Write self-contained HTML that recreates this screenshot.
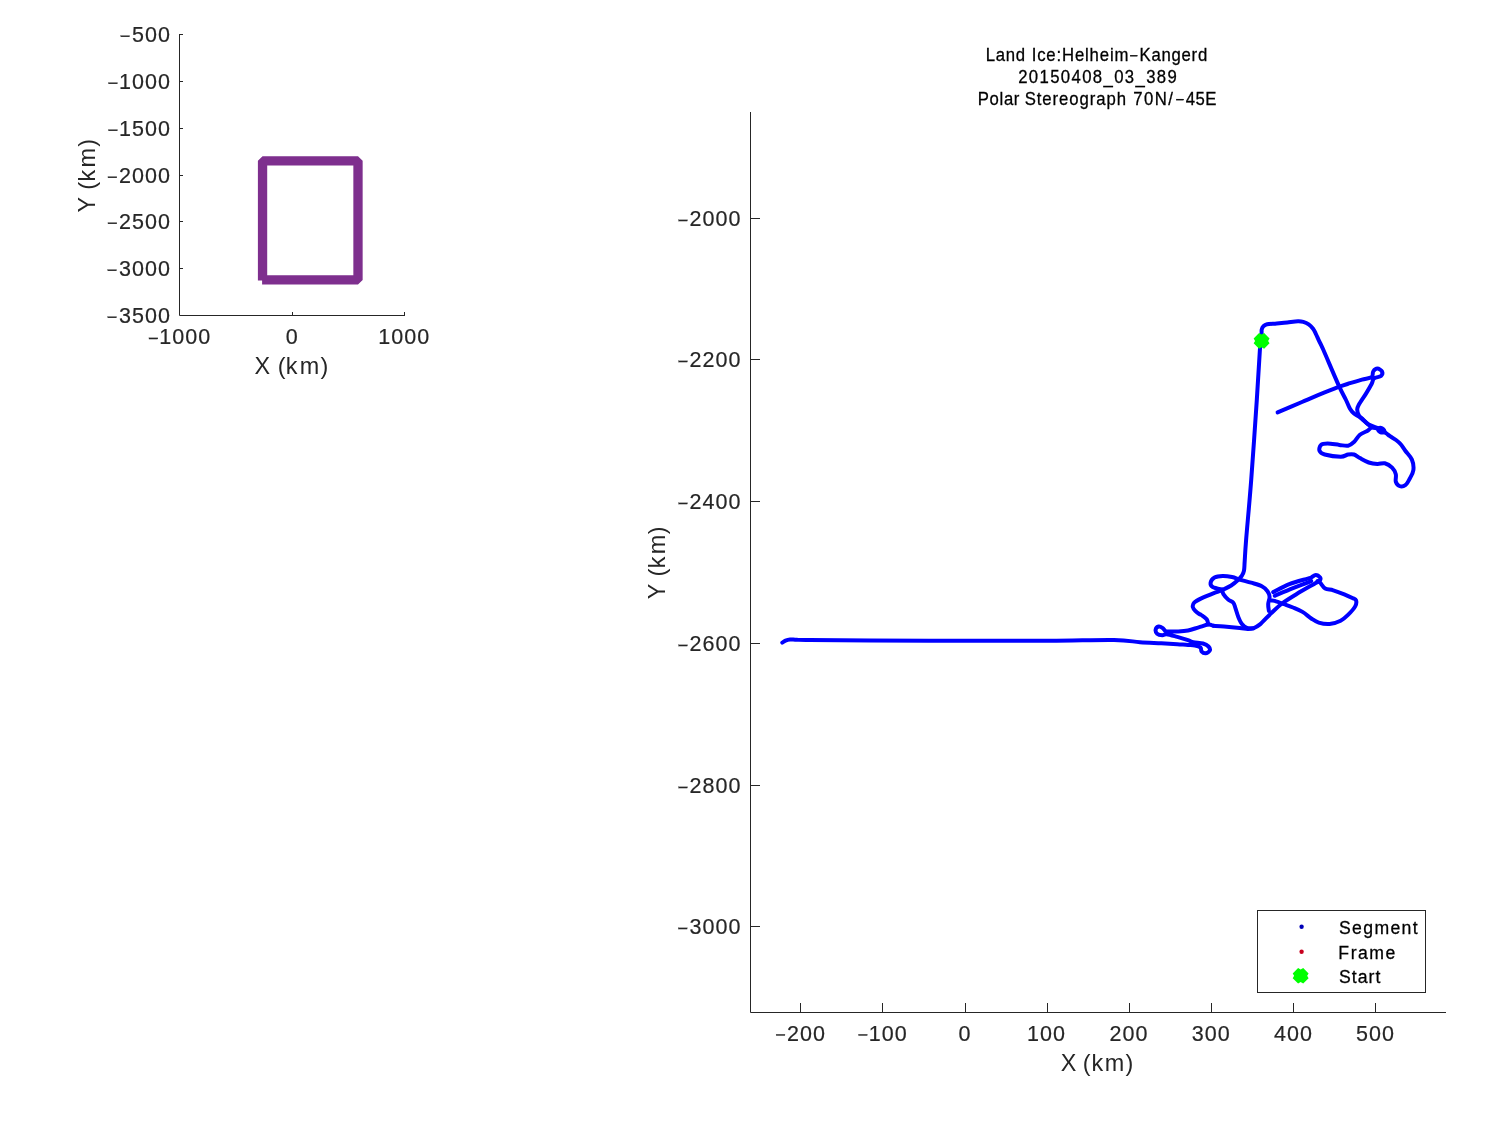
<!DOCTYPE html><html><head><meta charset="utf-8"><title>Plot</title><style>html,body{margin:0;padding:0;background:#fff;width:1500px;height:1125px;overflow:hidden}</style></head><body><svg width="1500" height="1125" viewBox="0 0 1500 1125" style="display:block;will-change:transform" font-family='"Liberation Sans", sans-serif' font-size="20" fill="#262626"><path d="M179.5,34 V315.5 H405 M179.5,34.5 h3.5 M179.5,81.5 h3.5 M179.5,128.5 h3.5 M179.5,175.5 h3.5 M179.5,221.5 h3.5 M179.5,268.5 h3.5 M292.5,315.5 v-3.5 M404.5,315.5 v-3.5" fill="none" stroke="#262626" stroke-width="1"/><g stroke="#262626" stroke-width="0.2"><text transform="scale(1.0,1)" x="131.88 144.88 157.88" y="42.20" font-size="21.5">500</text><rect x="120.74" y="35.60" width="8.9" height="1.3"/><text transform="scale(1.0,1)" x="118.88 131.88 144.88 157.88" y="89.20" font-size="21.5">1000</text><rect x="108.52" y="82.60" width="8.9" height="1.3"/><text transform="scale(1.0,1)" x="118.88 131.88 144.88 157.88" y="136.20" font-size="21.5">1500</text><rect x="108.52" y="129.60" width="8.9" height="1.3"/><text transform="scale(1.0,1)" x="118.88 131.88 144.88 157.88" y="183.20" font-size="21.5">2000</text><rect x="107.96" y="176.60" width="8.9" height="1.3"/><text transform="scale(1.0,1)" x="118.88 131.88 144.88 157.88" y="229.20" font-size="21.5">2500</text><rect x="107.96" y="222.60" width="8.9" height="1.3"/><text transform="scale(1.0,1)" x="118.88 131.88 144.88 157.88" y="276.20" font-size="21.5">3000</text><rect x="107.70" y="269.60" width="8.9" height="1.3"/><text transform="scale(1.0,1)" x="118.88 131.88 144.88 157.88" y="323.20" font-size="21.5">3500</text><rect x="107.70" y="316.60" width="8.9" height="1.3"/><text transform="scale(1.0,1)" x="159.32 172.32 185.32 198.32" y="344.40" font-size="21.5">1000</text><rect x="148.96" y="337.80" width="8.9" height="1.3"/><text transform="scale(1.0,1)" x="285.72" y="344.40" font-size="21.5">0</text><text transform="scale(1.0,1)" x="378.32 391.32 404.32 417.32" y="344.40" font-size="21.5">1000</text></g><text x="254.57 277.75 285.82 299.75 320.46" y="373.50" font-size="23.4">X(km)</text><text transform="translate(94.80,211.90) rotate(-90)" x="-0.51 22.25 30.52 44.35 65.16" y="0" font-size="23.4" style="white-space:pre">Y(km)</text><path d="M262.55,280.5 V160.8 H358 V279.9 H262.1" fill="none" stroke="#7E2F8E" stroke-width="9.3" stroke-linejoin="bevel"/><path d="M750.5,112 V1012.5 H1446 M750.5,218.5 h9.5 M750.5,359.5 h9.5 M750.5,501.5 h9.5 M750.5,643.5 h9.5 M750.5,785.5 h9.5 M750.5,926.5 h9.5 M800.5,1012.5 v-9.5 M882.5,1012.5 v-9.5 M965.5,1012.5 v-9.5 M1047.5,1012.5 v-9.5 M1129.5,1012.5 v-9.5 M1211.5,1012.5 v-9.5 M1293.5,1012.5 v-9.5 M1375.5,1012.5 v-9.5" fill="none" stroke="#262626" stroke-width="1"/><g stroke="#262626" stroke-width="0.2"><text transform="scale(1.0,1)" x="689.48 702.48 715.48 728.48" y="226.40" font-size="21.5">2000</text><rect x="678.56" y="219.80" width="8.9" height="1.3"/><text transform="scale(1.0,1)" x="689.48 702.48 715.48 728.48" y="367.40" font-size="21.5">2200</text><rect x="678.56" y="360.80" width="8.9" height="1.3"/><text transform="scale(1.0,1)" x="689.48 702.48 715.48 728.48" y="509.40" font-size="21.5">2400</text><rect x="678.56" y="502.80" width="8.9" height="1.3"/><text transform="scale(1.0,1)" x="689.48 702.48 715.48 728.48" y="651.40" font-size="21.5">2600</text><rect x="678.56" y="644.80" width="8.9" height="1.3"/><text transform="scale(1.0,1)" x="689.48 702.48 715.48 728.48" y="793.40" font-size="21.5">2800</text><rect x="678.56" y="786.80" width="8.9" height="1.3"/><text transform="scale(1.0,1)" x="689.48 702.48 715.48 728.48" y="934.40" font-size="21.5">3000</text><rect x="678.30" y="927.80" width="8.9" height="1.3"/><text transform="scale(1.0,1)" x="787.00 800.00 813.00" y="1040.90" font-size="21.5">200</text><rect x="776.08" y="1034.30" width="8.9" height="1.3"/><text transform="scale(1.0,1)" x="868.85 881.85 894.85" y="1040.90" font-size="21.5">100</text><rect x="858.49" y="1034.30" width="8.9" height="1.3"/><text transform="scale(1.0,1)" x="958.38" y="1040.90" font-size="21.5">0</text><text transform="scale(1.0,1)" x="1027.11 1040.11 1053.11" y="1040.90" font-size="21.5">100</text><text transform="scale(1.0,1)" x="1109.51 1122.51 1135.51" y="1040.90" font-size="21.5">200</text><text transform="scale(1.0,1)" x="1191.77 1204.77 1217.77" y="1040.90" font-size="21.5">300</text><text transform="scale(1.0,1)" x="1274.07 1287.07 1300.07" y="1040.90" font-size="21.5">400</text><text transform="scale(1.0,1)" x="1356.01 1369.01 1382.01" y="1040.90" font-size="21.5">500</text></g><text x="1060.67 1082.75 1091.42 1104.75 1125.46" y="1070.90" font-size="23.4">X(km)</text><text transform="translate(664.80,598.70) rotate(-90)" x="-0.51 22.25 30.52 44.35 64.36" y="0" font-size="23.4" style="white-space:pre">Y(km)</text><g fill="#000" stroke="#000" stroke-width="0.3"><text transform="scale(0.92,1)" x="1071.55" y="60.80" font-size="18.2" letter-spacing="0.726">Land</text><text transform="scale(0.92,1)" x="1121.36" y="60.80" font-size="18.2" letter-spacing="0.918">Ice:Helheim</text><rect x="1130.2" y="55.20" width="7.2" height="1.05"/><text transform="scale(0.92,1)" x="1238.72" y="60.80" font-size="18.2" letter-spacing="0.788">Kangerd</text><text transform="scale(0.92,1)" x="1106.69" y="82.80" font-size="18.2" letter-spacing="1.487">20150408_03_389</text><text transform="scale(0.92,1)" x="1062.85" y="104.70" font-size="18.2" letter-spacing="0.696">Polar</text><text transform="scale(0.92,1)" x="1113.74" y="104.70" font-size="18.2" letter-spacing="1.010">Stereograph</text><text transform="scale(0.92,1)" x="1231.89" y="104.70" font-size="18.2" letter-spacing="1.518">70N/</text><rect x="1176.25" y="99.10" width="7.5" height="1.05"/><text transform="scale(0.92,1)" x="1288.98" y="104.70" font-size="18.2" letter-spacing="0.468">45E</text></g><g fill="none" stroke="#0000FF" stroke-width="4.0" stroke-linejoin="round" stroke-linecap="round"><path d="M782.30,642.70C782.83,642.35 784.22,641.13 785.50,640.60C786.78,640.07 788.13,639.63 790.00,639.50C791.87,639.37 793.37,639.70 796.70,639.80C800.03,639.90 797.78,639.97 810.00,640.10C822.22,640.23 845.00,640.50 870.00,640.60C895.00,640.70 930.00,640.68 960.00,640.70C990.00,640.72 1024.33,640.82 1050.00,640.70C1075.67,640.58 1099.00,639.75 1114.00,640.00C1129.00,640.25 1132.12,641.65 1140.00,642.20C1147.88,642.75 1155.08,642.95 1161.30,643.30C1167.52,643.65 1172.85,644.03 1177.30,644.30C1181.75,644.57 1185.05,644.70 1188.00,644.90C1190.95,645.10 1192.92,645.07 1195.00,645.50C1197.08,645.93 1199.42,646.53 1200.50,647.50C1201.58,648.47 1200.65,650.35 1201.50,651.30C1202.35,652.25 1204.22,653.33 1205.60,653.20C1206.98,653.07 1209.32,651.62 1209.80,650.50C1210.28,649.38 1209.63,647.67 1208.50,646.50C1207.37,645.33 1205.53,644.22 1203.00,643.50C1200.47,642.78 1195.80,642.77 1193.30,642.20C1190.80,641.63 1190.67,640.98 1188.00,640.10C1185.33,639.22 1180.85,637.88 1177.30,636.90C1173.75,635.92 1169.18,634.47 1166.70,634.20C1164.22,633.93 1164.00,635.38 1162.40,635.30C1160.80,635.22 1158.22,634.68 1157.10,633.70C1155.98,632.72 1155.43,630.60 1155.70,629.40C1155.97,628.20 1157.58,626.77 1158.70,626.50C1159.82,626.23 1161.25,627.02 1162.40,627.80C1163.55,628.58 1164.72,630.58 1165.60,631.20C1166.48,631.82 1165.75,631.45 1167.70,631.50C1169.65,631.55 1173.92,631.67 1177.30,631.50C1180.68,631.33 1184.43,631.20 1188.00,630.50C1191.57,629.80 1195.32,628.28 1198.70,627.30C1202.08,626.32 1205.85,624.85 1208.30,624.60C1210.75,624.35 1212.55,625.60 1213.40,625.80"/><path d="M1208.30,624.30C1208.03,623.47 1207.87,620.85 1206.70,619.30C1205.53,617.75 1202.58,615.92 1201.30,615.00C1200.02,614.08 1199.95,614.43 1199.00,613.80C1198.05,613.17 1196.63,612.33 1195.60,611.20C1194.57,610.07 1193.03,608.42 1192.80,607.00C1192.57,605.58 1192.78,604.13 1194.20,602.70C1195.62,601.27 1197.73,600.12 1201.30,598.40C1204.87,596.68 1212.03,593.83 1215.60,592.40C1219.17,590.97 1220.10,590.95 1222.70,589.80C1225.30,588.65 1228.60,587.17 1231.20,585.50C1233.80,583.83 1236.52,581.45 1238.30,579.80C1240.08,578.15 1240.95,577.13 1241.90,575.60C1242.85,574.07 1243.53,573.03 1244.00,570.60C1244.47,568.17 1244.35,566.10 1244.70,561.00C1245.05,555.90 1245.02,553.50 1246.10,540.00C1247.18,526.50 1249.42,503.33 1251.20,480.00C1252.98,456.67 1255.33,421.97 1256.80,400.00C1258.27,378.03 1259.22,359.13 1260.00,348.20C1260.78,337.27 1261.22,337.50 1261.50,334.40C1261.78,331.30 1261.40,330.93 1261.70,329.60C1262.00,328.27 1262.40,327.28 1263.30,326.40C1264.20,325.52 1264.87,324.78 1267.10,324.30C1269.33,323.82 1273.33,323.82 1276.70,323.50C1280.07,323.18 1283.75,322.77 1287.30,322.40C1290.85,322.03 1295.33,321.38 1298.00,321.30C1300.67,321.22 1301.52,321.40 1303.30,321.90C1305.08,322.40 1307.10,323.20 1308.70,324.30C1310.30,325.40 1311.75,327.00 1312.90,328.50C1314.05,330.00 1314.53,331.17 1315.60,333.30C1316.67,335.43 1318.05,338.63 1319.30,341.30C1320.55,343.97 1319.85,341.92 1323.10,349.30C1326.35,356.68 1334.98,377.15 1338.80,385.60C1342.62,394.05 1344.13,396.13 1346.00,400.00C1347.87,403.87 1348.67,406.53 1350.00,408.80C1351.33,411.07 1352.27,412.13 1354.00,413.60C1355.73,415.07 1357.95,415.78 1360.40,417.60C1362.85,419.42 1365.50,422.62 1368.70,424.50C1371.90,426.38 1376.72,427.45 1379.60,428.90C1382.48,430.35 1384.27,431.98 1386.00,433.20C1387.73,434.42 1388.33,435.07 1390.00,436.20C1391.67,437.33 1394.25,438.70 1396.00,440.00C1397.75,441.30 1398.95,442.20 1400.50,444.00C1402.05,445.80 1403.40,448.20 1405.30,450.80C1407.20,453.40 1410.55,456.42 1411.90,459.60C1413.25,462.78 1413.77,466.72 1413.40,469.90C1413.03,473.08 1411.05,476.15 1409.70,478.70C1408.35,481.25 1407.02,483.98 1405.30,485.20C1403.58,486.42 1400.98,486.60 1399.40,486.00C1397.82,485.40 1396.40,483.55 1395.80,481.60C1395.20,479.65 1396.42,476.62 1395.80,474.30C1395.18,471.98 1393.93,469.53 1392.10,467.70C1390.27,465.87 1387.25,463.92 1384.80,463.30C1382.35,462.68 1380.08,464.13 1377.40,464.00C1374.72,463.87 1371.62,463.48 1368.70,462.50C1365.78,461.52 1362.35,459.43 1359.90,458.10C1357.45,456.77 1355.97,455.10 1354.00,454.50C1352.03,453.90 1350.30,454.13 1348.10,454.50C1345.90,454.87 1344.70,456.70 1340.80,456.70C1336.90,456.70 1328.25,455.48 1324.70,454.50C1321.15,453.52 1320.12,452.40 1319.50,450.80C1318.88,449.20 1319.65,446.12 1321.00,444.90C1322.35,443.68 1324.55,443.50 1327.60,443.50C1330.65,443.50 1335.88,444.53 1339.30,444.90C1342.72,445.27 1345.65,446.18 1348.10,445.70C1350.55,445.22 1352.03,443.83 1354.00,442.00C1355.97,440.17 1357.70,436.53 1359.90,434.70C1362.10,432.87 1365.13,432.22 1367.20,431.00C1369.27,429.78 1370.00,427.65 1372.30,427.40C1374.60,427.15 1379.55,429.15 1381.00,429.50"/><path d="M1376.00,428.20C1375.02,427.83 1372.30,427.50 1370.10,426.00C1367.90,424.50 1364.68,421.00 1362.80,419.20C1360.92,417.40 1359.73,416.80 1358.80,415.20C1357.87,413.60 1357.20,411.33 1357.20,409.60C1357.20,407.87 1357.33,407.47 1358.80,404.80C1360.27,402.13 1363.87,397.07 1366.00,393.60C1368.13,390.13 1370.27,386.53 1371.60,384.00C1372.93,381.47 1372.43,379.73 1374.00,378.40C1375.57,377.07 1379.67,377.15 1381.00,376.00C1382.33,374.85 1382.60,372.73 1382.00,371.50C1381.40,370.27 1378.87,368.60 1377.40,368.60C1375.93,368.60 1374.17,370.07 1373.20,371.50C1372.23,372.93 1373.47,375.85 1371.60,377.20C1369.73,378.55 1365.60,378.60 1362.00,379.60C1358.40,380.60 1354.00,381.93 1350.00,383.20C1346.00,384.47 1343.33,385.20 1338.00,387.20C1332.67,389.20 1324.00,392.73 1318.00,395.20C1312.00,397.67 1308.73,399.13 1302.00,402.00C1295.27,404.87 1281.67,410.67 1277.60,412.40"/><path d="M1213.40,625.80C1215.18,625.92 1219.72,626.13 1224.10,626.50C1228.48,626.87 1235.78,627.58 1239.70,628.00C1243.62,628.42 1245.33,628.95 1247.60,629.00C1249.87,629.05 1251.23,629.07 1253.30,628.30C1255.37,627.53 1257.05,626.88 1260.00,624.40C1262.95,621.92 1267.33,616.88 1271.00,613.40C1274.67,609.92 1277.72,606.73 1282.00,603.50C1286.28,600.27 1291.08,597.42 1296.70,594.00C1302.32,590.58 1311.85,585.25 1315.70,583.00C1319.55,580.75 1319.07,581.42 1319.80,580.50C1320.53,579.58 1320.78,578.43 1320.10,577.50C1319.42,576.57 1317.17,574.90 1315.70,574.90C1314.23,574.90 1312.63,576.88 1311.30,577.50C1309.97,578.12 1311.37,577.50 1307.70,578.60C1304.03,579.70 1295.05,581.85 1289.30,584.10C1283.55,586.35 1275.88,590.77 1273.20,592.10"/><path d="M1222.00,589.90C1222.23,590.60 1222.33,592.45 1223.40,594.10C1224.47,595.75 1226.75,598.37 1228.40,599.80C1230.05,601.23 1232.12,601.27 1233.30,602.70C1234.48,604.13 1234.67,606.03 1235.50,608.40C1236.33,610.77 1237.23,614.30 1238.30,616.90C1239.37,619.50 1240.47,622.17 1241.90,624.00C1243.33,625.83 1245.00,627.18 1246.90,627.90C1248.80,628.62 1252.23,628.23 1253.30,628.30"/><path d="M1222.70,589.80C1221.03,589.33 1214.72,588.18 1212.70,587.00C1210.68,585.82 1210.30,584.28 1210.60,582.70C1210.90,581.12 1212.48,578.63 1214.50,577.50C1216.52,576.37 1219.78,575.98 1222.70,575.90C1225.62,575.82 1229.03,576.35 1232.00,577.00C1234.97,577.65 1237.32,578.85 1240.50,579.80C1243.68,580.75 1247.55,581.63 1251.10,582.70C1254.65,583.77 1259.07,584.78 1261.80,586.20C1264.53,587.62 1266.20,589.42 1267.50,591.20C1268.80,592.98 1269.48,594.77 1269.60,596.90C1269.72,599.03 1268.32,601.63 1268.20,604.00C1268.08,606.37 1268.78,609.92 1268.90,611.10"/><path d="M1274.70,595.80C1277.75,594.52 1286.90,590.55 1293.00,588.10C1299.10,585.65 1308.25,582.27 1311.30,581.10"/><path d="M1317.50,581.00C1317.93,581.27 1318.82,581.35 1320.10,582.60C1321.38,583.85 1323.00,587.22 1325.20,588.50C1327.40,589.78 1330.12,589.33 1333.30,590.30C1336.48,591.27 1341.12,593.02 1344.30,594.30C1347.48,595.58 1350.45,597.02 1352.40,598.00C1354.35,598.98 1355.52,598.85 1356.00,600.20C1356.48,601.55 1356.63,603.65 1355.30,606.10C1353.97,608.55 1350.45,612.47 1348.00,614.90C1345.55,617.33 1343.67,619.18 1340.60,620.70C1337.53,622.22 1333.25,623.68 1329.60,624.00C1325.95,624.32 1321.75,623.52 1318.70,622.60C1315.65,621.68 1314.00,620.28 1311.30,618.50C1308.60,616.72 1305.55,613.73 1302.50,611.90C1299.45,610.07 1296.05,608.78 1293.00,607.50C1289.95,606.22 1287.25,605.30 1284.20,604.20C1281.15,603.10 1276.82,601.52 1274.70,600.90C1272.58,600.28 1272.03,600.57 1271.50,600.50"/></g><ellipse cx="0" cy="0" rx="5.4" ry="4.1" transform="translate(1381.2,430.2) rotate(25)" fill="#0000FF"/><polygon points="1259.05,333.10 1261.60,334.60 1264.15,333.10 1269.55,338.50 1268.10,340.90 1269.55,343.30 1264.15,348.70 1261.60,347.20 1259.05,348.70 1253.65,343.30 1255.10,340.90 1253.65,338.50" fill="#00FF00"/><rect x="1257.5" y="910.5" width="168" height="82" fill="#fff" stroke="#262626" stroke-width="1"/><circle cx="1301.6" cy="926.7" r="2.2" fill="#0000B8"/><circle cx="1301.6" cy="951.7" r="2.2" fill="#C8001E"/><polygon points="1298.10,968.00 1300.65,969.50 1303.20,968.00 1308.60,973.40 1307.15,975.80 1308.60,978.20 1303.20,983.60 1300.65,982.10 1298.10,983.60 1292.70,978.20 1294.15,975.80 1292.70,973.40" fill="#00FF00"/><g fill="#000" stroke="#000" stroke-width="0.3"><text transform="scale(0.92,1)" x="1455.43" y="933.90" font-size="19.2" letter-spacing="1.455">Segment</text><text transform="scale(0.92,1)" x="1454.73" y="958.70" font-size="19.2" letter-spacing="1.630">Frame</text><text transform="scale(0.92,1)" x="1455.43" y="982.90" font-size="19.2" letter-spacing="1.095">Start</text></g></svg></body></html>
